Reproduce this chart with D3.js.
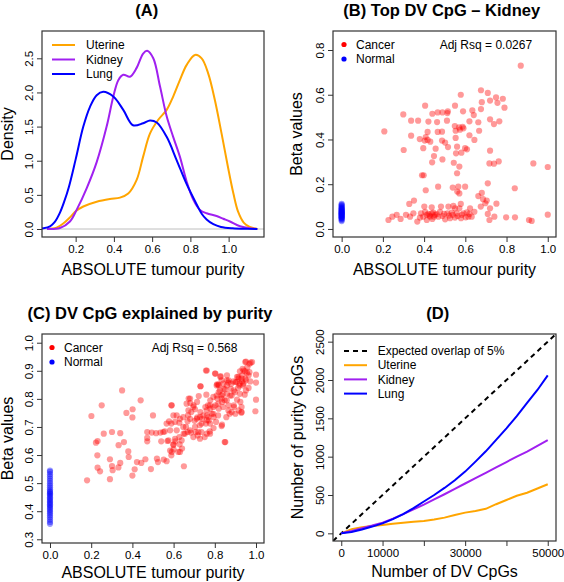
<!DOCTYPE html>
<html>
<head>
<meta charset="utf-8">
<script src="https://cdn.jsdelivr.net/npm/d3@7"></script>
<style>
body{margin:0;background:#fff}
text{font-family:"Liberation Sans",Arial,Helvetica,sans-serif;fill:#000}
</style>
</head>
<body>
<svg id="chart" width="564" height="582"></svg>
<script>
//DATA
// (A) density of ABSOLUTE purity, [purity, density]
const uterineDensity = [[0.05,0],[0.1,0.02],[0.135,0.08],[0.17,0.17],[0.2,0.26],[0.24,0.33],[0.31,0.40],[0.379,0.44],[0.432,0.46],[0.475,0.52],[0.519,0.72],[0.553,1.06],[0.589,1.40],[0.632,1.60],[0.676,1.745],[0.71,1.94],[0.745,2.18],[0.78,2.40],[0.824,2.55],[0.859,2.50],[0.893,2.28],[0.928,1.89],[0.963,1.40],[0.995,0.93],[1.025,0.52],[1.05,0.25],[1.08,0.09],[1.11,0.03],[1.15,0]];
const kidneyDensity = [[0.05,0],[0.118,0.015],[0.17,0.11],[0.205,0.28],[0.258,0.60],[0.31,0.98],[0.362,1.5],[0.397,1.94],[0.423,2.18],[0.449,2.26],[0.484,2.23],[0.519,2.36],[0.553,2.57],[0.574,2.61],[0.606,2.50],[0.641,2.09],[0.676,1.65],[0.71,1.35],[0.745,1.06],[0.78,0.70],[0.815,0.43],[0.85,0.28],[0.885,0.23],[0.937,0.19],[0.972,0.15],[1.007,0.11],[1.06,0.04],[1.11,0.01],[1.15,0]];
const lungDensity = [[0.0,0],[0.03,0.01],[0.066,0.04],[0.09,0.1],[0.118,0.24],[0.14,0.4],[0.165,0.62],[0.2,1.02],[0.24,1.5],[0.275,1.79],[0.31,1.96],[0.344,2.01],[0.397,1.94],[0.449,1.745],[0.50,1.52],[0.553,1.55],[0.589,1.59],[0.624,1.56],[0.676,1.35],[0.728,1.01],[0.78,0.66],[0.833,0.36],[0.86,0.22],[0.885,0.14],[0.92,0.07],[0.96,0.03],[1.02,0.01],[1.1,0.002],[1.15,0]];

// (B) top DV CpG kidney, cancer [purity, beta] and normal beta (purity 0)
const kidneyCancer = [[0.869,0.730],[0.578,0.600],[0.676,0.620],[0.709,0.608],[0.749,0.588],[0.782,0.582],[0.680,0.567],[0.720,0.574],[0.756,0.564],[0.405,0.551],[0.550,0.551],[0.790,0.542],[0.299,0.512],[0.440,0.515],[0.466,0.521],[0.489,0.521],[0.515,0.526],[0.589,0.526],[0.634,0.530],[0.676,0.536],[0.513,0.518],[0.641,0.509],[0.337,0.484],[0.371,0.484],[0.421,0.480],[0.463,0.478],[0.511,0.484],[0.549,0.460],[0.570,0.454],[0.587,0.457],[0.620,0.481],[0.663,0.477],[0.720,0.490],[0.765,0.481],[0.739,0.469],[0.207,0.436],[0.417,0.434],[0.466,0.434],[0.487,0.435],[0.553,0.439],[0.591,0.450],[0.574,0.444],[0.667,0.439],[0.337,0.417],[0.379,0.402],[0.408,0.411],[0.417,0.398],[0.403,0.395],[0.430,0.390],[0.487,0.395],[0.502,0.386],[0.553,0.407],[0.620,0.419],[0.644,0.398],[0.560,0.368],[0.516,0.366],[0.456,0.359],[0.396,0.361],[0.301,0.353],[0.599,0.361],[0.608,0.356],[0.581,0.341],[0.555,0.338],[0.720,0.350],[0.448,0.326],[0.489,0.311],[0.439,0.298],[0.544,0.296],[0.717,0.293],[0.739,0.292],[0.762,0.302],[0.930,0.293],[1.0,0.277],[0.571,0.279],[0.390,0.240],[0.398,0.240],[0.560,0.249],[0.709,0.204],[0.840,0.182],[0.468,0.189],[0.539,0.185],[0.566,0.189],[0.599,0.189],[0.408,0.173],[0.561,0.167],[0.571,0.159],[0.680,0.161],[0.663,0.147],[0.686,0.133],[0.704,0.127],[0.697,0.115],[0.751,0.113],[0.351,0.127],[0.328,0.112],[0.401,0.100],[0.437,0.097],[0.482,0.100],[0.518,0.100],[0.542,0.103],[0.578,0.112],[0.571,0.092],[0.623,0.092],[0.675,0.100],[0.227,0.040],[0.246,0.055],[0.267,0.063],[0.286,0.045],[0.312,0.063],[0.332,0.055],[0.348,0.070],[0.367,0.033],[0.385,0.070],[0.396,0.055],[0.413,0.063],[0.426,0.060],[0.437,0.070],[0.448,0.055],[0.461,0.066],[0.477,0.077],[0.489,0.058],[0.502,0.043],[0.513,0.070],[0.526,0.048],[0.539,0.063],[0.550,0.051],[0.563,0.058],[0.579,0.048],[0.591,0.070],[0.607,0.074],[0.620,0.067],[0.631,0.055],[0.644,0.077],[0.413,0.040],[0.429,0.055],[0.453,0.063],[0.534,0.073],[0.602,0.052],[0.550,0.092],[0.709,0.067],[0.717,0.040],[0.741,0.055],[0.798,0.052],[0.841,0.052],[0.909,0.040],[0.922,0.036],[1.0,0.064],[0.720,0.092],[0.421,0.067],[0.445,0.073],[0.469,0.055],[0.497,0.067],[0.521,0.060],[0.558,0.070],[0.583,0.063],[0.615,0.055],[0.380,0.051],[0.440,0.045],[0.405,0.077]];
const kidneyNormal = [0.035,0.040,0.045,0.048,0.050,0.052,0.055,0.057,0.060,0.062,0.064,0.066,0.068,0.070,0.072,0.074,0.076,0.078,0.080,0.082,0.085,0.088,0.090,0.093,0.096,0.100,0.104,0.108,0.112];
const rsqB = "0.0267";

// (C) DV CpG explained by purity
const purityCancer = [[0.350,0.830],[0.251,0.777],[0.201,0.739],[0.440,0.795],[0.371,0.750],[0.401,0.763],[0.400,0.734],[0.500,0.741],[0.589,0.777],[0.615,0.741],[0.578,0.720],[0.589,0.712],[0.628,0.715],[0.261,0.676],[0.301,0.682],[0.341,0.678],[0.223,0.644],[0.231,0.650],[0.333,0.635],[0.359,0.646],[0.230,0.599],[0.380,0.613],[0.382,0.593],[0.291,0.585],[0.301,0.561],[0.341,0.572],[0.332,0.556],[0.231,0.555],[0.243,0.542],[0.304,0.546],[0.422,0.575],[0.411,0.549],[0.443,0.572],[0.463,0.585],[0.490,0.550],[0.519,0.587],[0.524,0.575],[0.552,0.584],[0.566,0.578],[0.180,0.510],[0.291,0.514],[0.400,0.527],[0.650,0.560],[0.472,0.682],[0.494,0.680],[0.515,0.678],[0.536,0.680],[0.557,0.684],[0.472,0.661],[0.472,0.649],[0.540,0.649],[0.570,0.650],[0.599,0.637],[0.608,0.649],[0.583,0.616],[0.600,0.620],[0.589,0.599],[0.623,0.611],[0.641,0.623],[0.629,0.638],[0.628,0.664],[0.647,0.700],[0.668,0.720],[0.680,0.729],[0.702,0.722],[0.715,0.734],[0.738,0.729],[0.762,0.741],[0.757,0.712],[0.727,0.706],[0.707,0.682],[0.717,0.670],[0.735,0.682],[0.751,0.664],[0.775,0.684],[0.794,0.696],[0.835,0.708],[0.848,0.646],[0.681,0.785],[0.673,0.801],[0.714,0.789],[0.722,0.810],[0.730,0.845],[0.759,0.815],[0.757,0.901],[0.803,0.890],[0.827,0.878],[0.859,0.884],[0.819,0.848],[0.811,0.852],[0.754,0.771],[0.778,0.765],[0.786,0.747],[0.803,0.777],[0.819,0.765],[0.835,0.789],[0.848,0.795],[0.875,0.812],[0.867,0.777],[0.892,0.777],[0.908,0.797],[0.916,0.759],[0.929,0.751],[0.900,0.747],[0.872,0.747],[0.856,0.735],[0.794,0.735],[0.806,0.718],[0.812,0.801],[0.819,0.824],[0.843,0.836],[0.859,0.848],[0.880,0.854],[0.900,0.860],[0.916,0.872],[0.932,0.862],[0.948,0.872],[0.956,0.893],[0.964,0.884],[0.940,0.901],[0.981,0.931],[0.968,0.925],[0.948,0.931],[0.932,0.884],[0.972,0.862],[1.0,0.858],[1.0,0.797],[0.997,0.756],[0.924,0.789],[0.945,0.815],[0.892,0.830],[0.859,0.818],[0.838,0.816],[0.778,0.795],[0.767,0.777],[0.730,0.753],[0.704,0.763],[0.697,0.777],[0.686,0.753],[0.670,0.741],[0.660,0.700],[0.668,0.682],[0.684,0.680],[0.649,0.676],[0.770,0.723],[0.816,0.741],[0.832,0.812],[0.913,0.839],[0.921,0.854],[0.937,0.848],[0.951,0.830],[0.964,0.839],[0.867,0.866],[0.908,0.878],
  [0.951,0.933],[0.974,0.929],[0.958,0.913],[0.935,0.907],[0.922,0.898],[0.947,0.898],[0.968,0.895],[1.0,0.886],[0.914,0.878],[0.930,0.872],[0.951,0.866],[0.906,0.860],[0.890,0.862],[0.866,0.858],[0.841,0.854],[0.817,0.851],[0.828,0.881],[0.801,0.890],[0.761,0.901],[0.731,0.845],[0.919,0.848],[0.939,0.854],[0.877,0.836],[0.850,0.834],[0.825,0.830],[0.809,0.812],[0.793,0.807],[0.833,0.801],[0.858,0.795],[0.882,0.812],[0.898,0.824],[0.922,0.818],[0.817,0.783],[0.841,0.771],[0.793,0.771],[0.777,0.777],[0.761,0.759],[0.744,0.741],[0.769,0.735],[0.793,0.747],[0.866,0.759],[0.882,0.753],[0.930,0.753],[0.893,0.771],[0.833,0.703],[0.777,0.712],[0.761,0.724],[0.728,0.735],[0.712,0.729],[0.696,0.771],[0.672,0.759],[0.663,0.783],[0.680,0.801],[0.647,0.735],[0.631,0.729],[0.607,0.718],[0.599,0.741],[0.591,0.777],[0.566,0.712],[0.550,0.682],[0.583,0.688],[0.615,0.688],[0.655,0.676],[0.680,0.688],[0.704,0.700],[0.720,0.682],[0.736,0.712],[0.761,0.676],[0.777,0.676],[0.728,0.658],[0.696,0.664],[0.639,0.652],[0.607,0.658],[0.575,0.652],[0.599,0.637],[0.591,0.611],[0.631,0.611],[0.851,0.646],[0.930,0.771],[0.858,0.866],[0.833,0.866],[0.809,0.848]];
const purityNormal = [0.355,0.362,0.370,0.378,0.385,0.392,0.398,0.404,0.410,0.415,0.420,0.425,0.430,0.435,0.440,0.445,0.450,0.455,0.460,0.464,0.468,0.472,0.478,0.485,0.492,0.500,0.508,0.516,0.524,0.532,0.540,0.545];
const rsqC = "0.568";

// (D) overlap of DV CpGs with purity CpGs
const dvCpGs = [0,2500,5000,7500,10000,12500,15000,17500,20000,22500,25000,27500,30000,32500,35000,37500,40000,42500,45000,47500,50000];
const uterineOverlap = [0,55,80,95,110,125,138,150,162,180,205,240,270,292,320,380,435,490,530,585,640];
const kidneyOverlap = [0,32,68,102,140,192,250,312,375,442,510,580,650,720,790,860,930,1000,1065,1140,1215];
const lungOverlap = [0,18,50,88,130,185,250,330,415,500,592,692,805,935,1070,1220,1370,1530,1703,1870,2060];
const expectedRate = 0.05;

const tissues = ["Uterine","Kidney","Lung"];
const tissueColors = {Uterine:"#FFA500", Kidney:"#A020F0", Lung:"#0000FF"};

//CHART
const svg = d3.select("#chart");

function panel(name, box, xDomain, yDomain) {
  const g = svg.append("g");
  const x = d3.scaleLinear().domain(xDomain).range([box.x0, box.x1]);
  const y = d3.scaleLinear().domain(yDomain).range([box.y1, box.y0]);
  svg.append("clipPath").attr("id", "clip-" + name)
    .append("rect")
    .attr("x", box.x0).attr("y", box.y0)
    .attr("width", box.x1 - box.x0).attr("height", box.y1 - box.y0);
  const plot = g.append("g").attr("clip-path", `url(#clip-${name})`);
  return {g, plot, x, y, box};
}

function axes(p, xTicks, yTicks, xFmt, yFmt) {
  const b = p.box;
  const xa = p.g.append("g")
    .attr("transform", `translate(0,${b.y1})`)
    .call(d3.axisBottom(p.x).tickValues(xTicks).tickFormat(xFmt).tickSize(5).tickPadding(3));
  xa.select(".domain").remove();
  const ya = p.g.append("g")
    .attr("transform", `translate(${b.x0},0)`)
    .call(d3.axisLeft(p.y).tickValues(yTicks).tickFormat(yFmt).tickSize(5));
  ya.select(".domain").remove();
  ya.selectAll("text")
    .attr("transform", "rotate(-90)")
    .attr("x", 0).attr("y", -9.5).attr("dy", 0)
    .attr("text-anchor", "middle");
  p.g.selectAll(".tick text").attr("font-size", 11.5);
  p.g.selectAll(".tick line").attr("stroke", "#333");
  p.g.append("rect")
    .attr("x", b.x0).attr("y", b.y0)
    .attr("width", b.x1 - b.x0).attr("height", b.y1 - b.y0)
    .attr("fill", "none").attr("stroke", "#333").attr("stroke-width", 1.2);
}

function labels(p, title, titleX, xLab, xLabY, yLab, yLabX) {
  const b = p.box;
  p.g.append("text").attr("x", titleX).attr("y", b.y0 - 15)
    .attr("text-anchor", "middle").attr("font-weight", "bold").attr("font-size", 16.5)
    .text(title);
  p.g.append("text").attr("x", (b.x0 + b.x1) / 2).attr("y", xLabY)
    .attr("text-anchor", "middle").attr("font-size", 16)
    .text(xLab);
  p.g.append("text")
    .attr("transform", `translate(${yLabX},${(b.y0 + b.y1) / 2}) rotate(-90)`)
    .attr("text-anchor", "middle").attr("font-size", 16)
    .text(yLab);
}

const fmt1 = d3.format(".1f");

// (A) density
const pA = panel("a", {x0:42, x1:264, y0:31, y1:237}, [0.024, 1.185], [-0.117, 2.90]);
pA.plot.append("line")
  .attr("x1", pA.box.x0).attr("x2", pA.box.x1)
  .attr("y1", pA.y(0)).attr("y2", pA.y(0))
  .attr("stroke", "#bebebe").attr("stroke-width", 1);
const densLine = d3.line().x(d => pA.x(d[0])).y(d => pA.y(d[1])).curve(d3.curveCatmullRom.alpha(0.5));
const densities = {Uterine: uterineDensity, Kidney: kidneyDensity, Lung: lungDensity};
tissues.forEach(t => {
  pA.plot.append("path").datum(densities[t])
    .attr("d", densLine)
    .attr("fill", "none").attr("stroke", tissueColors[t]).attr("stroke-width", 2);
});
axes(pA, [0.2,0.4,0.6,0.8,1.0], [0,0.5,1,1.5,2,2.5], fmt1, fmt1);
labels(pA, "(A)", 146.7, "ABSOLUTE tumour purity", 275, "Density", 13);
const legA = pA.g.append("g");
tissues.forEach((t, i) => {
  const yy = 45 + i * 14.5;
  legA.append("line").attr("x1", 52).attr("x2", 75).attr("y1", yy).attr("y2", yy)
    .attr("stroke", tissueColors[t]).attr("stroke-width", 2);
  legA.append("text").attr("x", 86).attr("y", yy).attr("dy", "0.35em").attr("font-size", 12).text(t);
});

// scatter panels
function scatter(p, cancer, normal, rsq, legX, rsqX) {
  p.plot.selectAll("circle.normal").data(normal).enter().append("circle")
    .attr("class", "normal")
    .attr("cx", p.x(0)).attr("cy", d => p.y(d)).attr("r", 3.1)
    .attr("fill", "rgba(0,0,255,0.4)");
  p.plot.selectAll("circle.cancer").data(cancer).enter().append("circle")
    .attr("class", "cancer")
    .attr("cx", d => p.x(d[0])).attr("cy", d => p.y(d[1])).attr("r", 3.1)
    .attr("fill", "rgba(255,0,0,0.4)");
  const y0 = p.box.y0 + 13.5;
  [["Cancer", "#FF0000"], ["Normal", "#0000FF"]].forEach((d, i) => {
    p.g.append("circle").attr("cx", legX).attr("cy", y0 + i * 14.5).attr("r", 2.6).attr("fill", d[1]);
    p.g.append("text").attr("x", legX + 12).attr("y", y0 + i * 14.5).attr("dy", "0.35em")
      .attr("font-size", 12).text(d[0]);
  });
  p.g.append("text").attr("x", rsqX).attr("y", y0).attr("dy", "0.35em")
    .attr("font-size", 12).text("Adj Rsq = " + rsq);
}

// (B)
const pB = panel("b", {x0:333, x1:556, y0:31, y1:237}, [-0.042, 1.04], [-0.036, 0.885]);
scatter(pB, kidneyCancer, kidneyNormal, rsqB, 344, 439.7);
axes(pB, [0,0.2,0.4,0.6,0.8,1.0], [0,0.2,0.4,0.6,0.8], fmt1, fmt1);
labels(pB, "(B) Top DV CpG \u2013 Kidney", 441.7, "ABSOLUTE tumour purity", 275, "Beta values", 302);

// (C)
const pC = panel("c", {x0:42, x1:264, y0:334, y1:543}, [-0.0388, 1.0388], [0.2868, 1.031]);
scatter(pC, purityCancer, purityNormal, rsqC, 52, 151.7);
axes(pC, [0,0.2,0.4,0.6,0.8,1.0], [0.3,0.4,0.5,0.6,0.7,0.8,0.9,1.0], fmt1, fmt1);
labels(pC, "(C) DV CpG explained by purity", 150, "ABSOLUTE tumour purity", 578, "Beta values", 13);

// (D)
const pD = panel("d", {x0:333, x1:556, y0:334, y1:541}, [-2000, 52000], [-100, 2600]);
const xd = pD.x.domain();
pD.plot.append("line")
  .attr("x1", pD.x(xd[0])).attr("y1", pD.y(xd[0] * expectedRate))
  .attr("x2", pD.x(xd[1])).attr("y2", pD.y(xd[1] * expectedRate))
  .attr("stroke", "#000").attr("stroke-width", 2).attr("stroke-dasharray", "5,4");
const overlaps = {Uterine: uterineOverlap, Kidney: kidneyOverlap, Lung: lungOverlap};
const ovLine = d3.line().x((d, i) => pD.x(dvCpGs[i])).y(d => pD.y(d));
tissues.forEach(t => {
  pD.plot.append("path").datum(overlaps[t])
    .attr("d", ovLine)
    .attr("fill", "none").attr("stroke", tissueColors[t]).attr("stroke-width", 2);
});
axes(pD, [0,10000,20000,30000,40000,50000], [0,500,1000,1500,2000,2500],
  d => [0,10000,30000,50000].includes(d) ? d : "", d => d);
labels(pD, "(D)", 437.8, "Number of DV CpGs", 577, "Number of purity CpGs", 303);
const legD = [["Expected overlap of 5%", "#000", "5,4"]].concat(tissues.map(t => [t, tissueColors[t], null]));
legD.forEach((d, i) => {
  const yy = 351 + i * 14.2;
  pD.g.append("line").attr("x1", 344).attr("x2", 367).attr("y1", yy).attr("y2", yy)
    .attr("stroke", d[1]).attr("stroke-width", 2).attr("stroke-dasharray", d[2]);
  pD.g.append("text").attr("x", 377.7).attr("y", yy).attr("dy", "0.35em").attr("font-size", 12).text(d[0]);
});
</script>
</body>
</html>
